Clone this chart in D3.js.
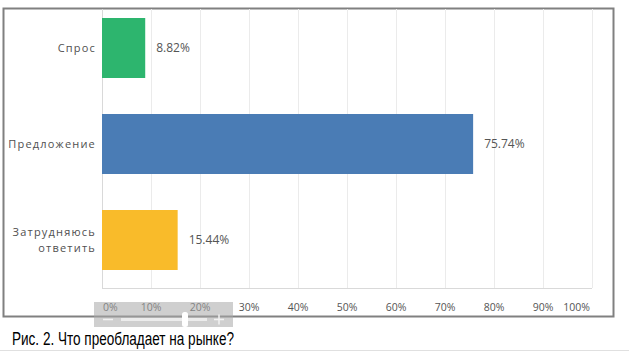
<!DOCTYPE html>
<html>
<head>
<meta charset="utf-8">
<script src="https://cdn.jsdelivr.net/npm/d3@7"></script>
<style>
  body { margin: 0; background: #fff; }
  svg { display: block; }
</style>
</head>
<body>
<svg id="chart" width="629" height="352"></svg>
<script>
// data
var categories = ['Спрос', 'Предложение', 'Затрудняюсь ответить'];
var labelLines = [['Спрос'], ['Предложение'], ['Затрудняюсь', 'ответить']];
var values = [8.82, 75.74, 15.44];
var barColors = ['#2db56e', '#4a7cb5', '#f9bb2a'];
var tickValues = [0, 10, 20, 30, 40, 50, 60, 70, 80, 90, 100];
var caption = 'Рис. 2. Что преобладает на рынке?';

(function() {

var svg = d3.select('#chart'),
    plotLeft = 102, plotRight = 592, plotTop = 0, plotBottom = 288;

var x = d3.scaleLinear().domain([0, 100]).range([plotLeft, plotRight]);
var y = d3.scaleBand().domain(categories).range([plotTop, plotBottom])
    .paddingInner(0.375).paddingOuter(0.1875);

// frame
svg.append('rect')
    .attr('x', 3.5).attr('y', 8.5)
    .attr('width', 610).attr('height', 308)
    .attr('fill', 'none').attr('stroke', '#808080').attr('stroke-width', 2);

// grid
svg.append('g').selectAll('line')
    .data(tickValues.slice(1))
    .enter().append('line')
    .attr('x1', function(d) { return x(d) + 0.5; })
    .attr('x2', function(d) { return x(d) + 0.5; })
    .attr('y1', 9).attr('y2', plotBottom)
    .attr('stroke', '#ebebeb');

svg.append('line')
    .attr('x1', plotLeft + 0.5).attr('x2', plotLeft + 0.5)
    .attr('y1', 9).attr('y2', plotBottom)
    .attr('stroke', '#d9d9d9');

svg.append('line')
    .attr('x1', plotLeft).attr('x2', plotRight)
    .attr('y1', plotBottom + 0.5).attr('y2', plotBottom + 0.5)
    .attr('stroke', '#d9d9d9');

// tick labels
svg.append('g').selectAll('text')
    .data(tickValues)
    .enter().append('text')
    .attr('x', function(d) { return d === 0 ? x(d) + 1 : (d === 100 ? x(d) - 2 : x(d)); })
    .attr('y', 311)
    .attr('text-anchor', function(d) { return d === 0 ? 'start' : (d === 100 ? 'end' : 'middle'); })
    .attr('font-family', 'Open Sans, sans-serif')
    .attr('font-size', 10.5)
    .attr('fill', '#555')
    .text(function(d) { return d + '%'; });

// bars
svg.append('g').selectAll('rect')
    .data(values)
    .enter().append('rect')
    .attr('x', plotLeft)
    .attr('y', function(d, i) { return y(categories[i]); })
    .attr('width', function(d) { return x(d) - plotLeft; })
    .attr('height', y.bandwidth())
    .attr('fill', function(d, i) { return barColors[i]; });

// value labels
svg.append('g').selectAll('text')
    .data(values)
    .enter().append('text')
    .attr('x', function(d) { return x(d) + 11; })
    .attr('y', function(d, i) { return y(categories[i]) + y.bandwidth() / 2; })
    .attr('dy', '0.35em')
    .attr('font-family', 'Open Sans, sans-serif')
    .attr('font-size', 12)
    .attr('fill', '#555')
    .text(function(d) { return d.toFixed(2) + '%'; });

// category labels
svg.append('g').selectAll('text')
    .data(labelLines)
    .enter().append('text')
    .attr('text-anchor', 'end')
    .attr('font-family', 'Open Sans, sans-serif')
    .attr('font-size', 11)
    .attr('letter-spacing', 1.2)
    .attr('fill', '#505050')
    .each(function(lines, i) {
        var cy = y(categories[i]) + y.bandwidth() / 2,
            t = d3.select(this);
        lines.forEach(function(line, j) {
            t.append('tspan')
                .attr('x', 96)
                .attr('y', cy + (j - (lines.length - 1) / 2) * 16)
                .attr('dy', '0.35em')
                .text(line);
        });
    });

// zoom scroller overlay
var sc = svg.append('g');
sc.append('rect')
    .attr('x', 94).attr('y', 302).attr('width', 139).attr('height', 25)
    .attr('fill', '#a8a8a8').attr('opacity', 0.55);
sc.append('line')
    .attr('x1', 103).attr('x2', 113).attr('y1', 319.5).attr('y2', 319.5)
    .attr('stroke', '#f2f2f2').attr('stroke-width', 1.5);
sc.append('rect')
    .attr('x', 121).attr('y', 318).attr('width', 86).attr('height', 3)
    .attr('fill', '#f2f2f2').attr('opacity', 0.8);
sc.append('rect')
    .attr('x', 182).attr('y', 312).attr('width', 6).attr('height', 15).attr('rx', 2.5)
    .attr('fill', '#fff');
sc.append('line')
    .attr('x1', 214).attr('x2', 224).attr('y1', 319.5).attr('y2', 319.5)
    .attr('stroke', '#f2f2f2').attr('stroke-width', 1.5);
sc.append('line')
    .attr('x1', 219).attr('x2', 219).attr('y1', 314.5).attr('y2', 324.5)
    .attr('stroke', '#f2f2f2').attr('stroke-width', 1.5);

// caption
svg.append('text')
    .attr('x', 12).attr('y', 345)
    .attr('font-family', 'Liberation Sans Narrow, Liberation Sans, Arial, sans-serif')
    .attr('font-size', 17.5)
    .attr('textLength', 222)
    .attr('lengthAdjust', 'spacingAndGlyphs')
    .attr('fill', '#000')
    .text(caption);

svg.append('line')
    .attr('x1', 0).attr('x2', 629).attr('y1', 350.5).attr('y2', 350.5)
    .attr('stroke', '#e0e0e0');

}());
</script>
</body>
</html>
